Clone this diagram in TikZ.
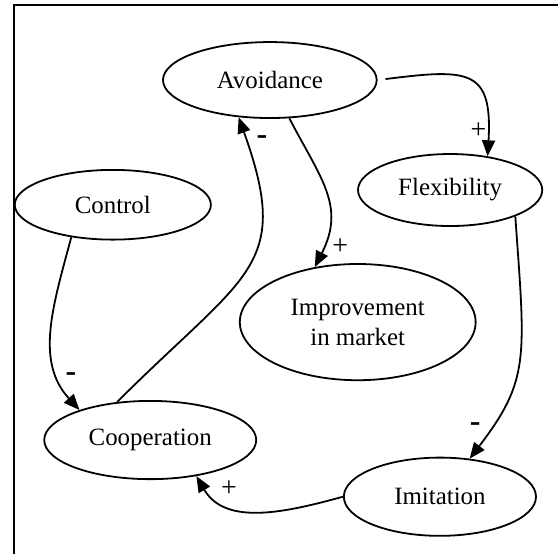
\documentclass[tikz,border=0pt]{standalone}
\usepackage{fontspec}
\setmainfont{Liberation Serif}
\usetikzlibrary{shapes.geometric,arrows.meta}

\begin{document}
\begin{tikzpicture}[
        state/.style={ellipse, draw, line width=0.9pt, inner sep=0pt,
            font=\fontsize{12.5}{15}\selectfont},
        link/.style={line width=0.9pt, -{Triangle[length=8pt,width=6.5pt]}},
        plus/.style={font=\fontsize{14}{16}\selectfont, inner sep=0pt},
        minus/.style={font=\fontsize{16}{18}\selectfont\bfseries, inner sep=0pt}
    ]
    \useasboundingbox (0, 0) rectangle (9.843, 9.772);
    \draw[line width=1pt] (0.24, 0) -- (0.24, 9.68) -- (9.843, 9.68);

    \node[state, minimum width=3.77cm, minimum height=1.34cm] (avoid) at (4.76, 8.36) {Avoidance};
    \node[state, minimum width=3.25cm, minimum height=1.27cm] (flex) at (7.94, 6.42) {Flexibility};
    \node[state, minimum width=3.46cm, minimum height=1.23cm] (ctrl) at (1.99, 6.16) {Control};
    \node[state, minimum width=4.16cm, minimum height=2.05cm, align=center] (impr) at (6.31, 4.09) {Improvement\\in market};
    \node[state, minimum width=3.74cm, minimum height=1.38cm] (coop) at (2.65, 2.01) {Cooperation};
    \node[state, minimum width=3.39cm, minimum height=1.38cm] (imit) at (7.76, 1.01) {Imitation};

    \draw[link, shorten <=4pt] (avoid.east) .. controls +(1.6, 0.2) and +(0.09, 1.55) .. (flex.42);
    \draw[link] (avoid.-63) .. controls +(0.55, -1.06) and +(0.55, 1.08) .. (impr.128);
    \draw[link] (coop.131) .. controls +(2.29, 2.29) and +(0.95, -2.65) .. (avoid.230);
    \draw[link] (ctrl.218) .. controls +(-0.32, -1.20) and +(-0.79, 0.86) .. (coop.157);
    \draw[link] (flex.-22) .. controls +(0.18, -2.52) and +(1.06, 1.39) .. (imit.52);
    \draw[link] (imit.west) .. controls +(-1.02, -0.28) and +(0.51, -0.88) .. (coop.-38);

    % signs of the links
    \node[plus] (s1) at (8.44, 7.46) {+};
    \node[plus] (s2) at (6.00, 5.43) {+};
    \node[minus] (s3) at (4.62, 7.30) {-};
    \node[minus] (s4) at (1.25, 3.12) {-};
    \node[minus] (s5) at (8.38, 2.24) {-};
    \node[plus] (s6) at (4.04, 1.16) {+};
\end{tikzpicture}
\end{document}
